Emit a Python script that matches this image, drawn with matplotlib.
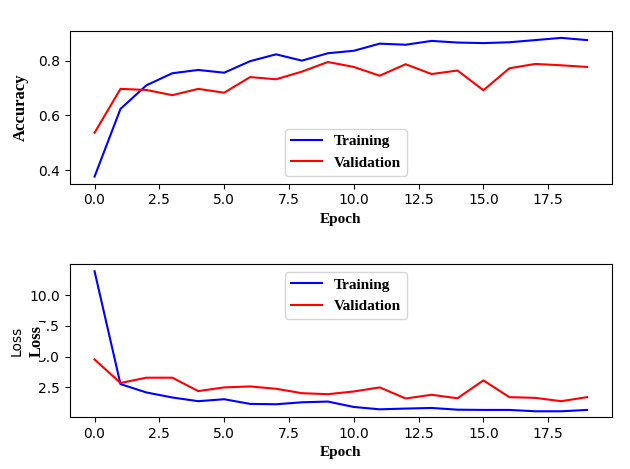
import matplotlib
matplotlib.use('Agg')
import matplotlib.pyplot as plt

# values
epochs = list(range(20))
acc_train = [0.377, 0.624, 0.710, 0.754, 0.766, 0.756, 0.798, 0.823, 0.800, 0.827,
             0.836, 0.862, 0.858, 0.872, 0.866, 0.864, 0.867, 0.875, 0.883, 0.875]
acc_val = [0.537, 0.697, 0.693, 0.674, 0.697, 0.683, 0.740, 0.732, 0.760, 0.795,
           0.777, 0.745, 0.787, 0.751, 0.764, 0.692, 0.772, 0.788, 0.783, 0.777]
loss_train = [11.94, 2.77, 2.09, 1.68, 1.38, 1.54, 1.16, 1.13, 1.29, 1.35,
              0.91, 0.72, 0.78, 0.83, 0.69, 0.67, 0.67, 0.56, 0.56, 0.67]
loss_val = [4.77, 2.86, 3.29, 3.29, 2.20, 2.50, 2.58, 2.39, 2.03, 1.95,
            2.17, 2.50, 1.60, 1.90, 1.62, 3.07, 1.71, 1.65, 1.38, 1.71]
loss_ticks = [2.5, 5.0, 7.5, 10.0]

serif_bold = {'family': 'Liberation Serif', 'weight': 'bold', 'size': 11}
serif_bold_big = {'family': 'Liberation Serif', 'weight': 'bold', 'size': 12}

fig, (ax1, ax2) = plt.subplots(2, 1, figsize=(6.3, 4.69), dpi=100)
fig.subplots_adjust(left=0.111, right=0.971, top=0.934, bottom=0.111, hspace=0.53)

ax1.plot(epochs, acc_train, 'b', label='Training')
ax1.plot(epochs, acc_val, 'r', label='Validation')
ax1.set_xlabel('Epoch', fontdict=serif_bold)
ax1.set_ylabel('Accuracy', fontdict=serif_bold_big, labelpad=7)
ax1.legend(loc='lower center', prop=serif_bold, bbox_to_anchor=(0.51, 0.0))

ax2.plot(epochs, loss_train, 'b', label='Training')
ax2.plot(epochs, loss_val, 'r', label='Validation')
ax2.set_ylim(0.1, 12.5)
ax2.set_yticks(loss_ticks)
ax2.set_xlabel('Epoch', fontdict=serif_bold)
ax2.set_ylabel('Loss')
ax2.text(-0.061, 0.5, 'Loss', transform=ax2.transAxes, rotation=90,
         ha='center', va='center', fontdict=serif_bold_big,
         bbox=dict(facecolor='white', edgecolor='none', pad=1))
ax2.legend(loc='upper center', prop=serif_bold, bbox_to_anchor=(0.51, 1.0))

plt.savefig('out.png', dpi=100)
